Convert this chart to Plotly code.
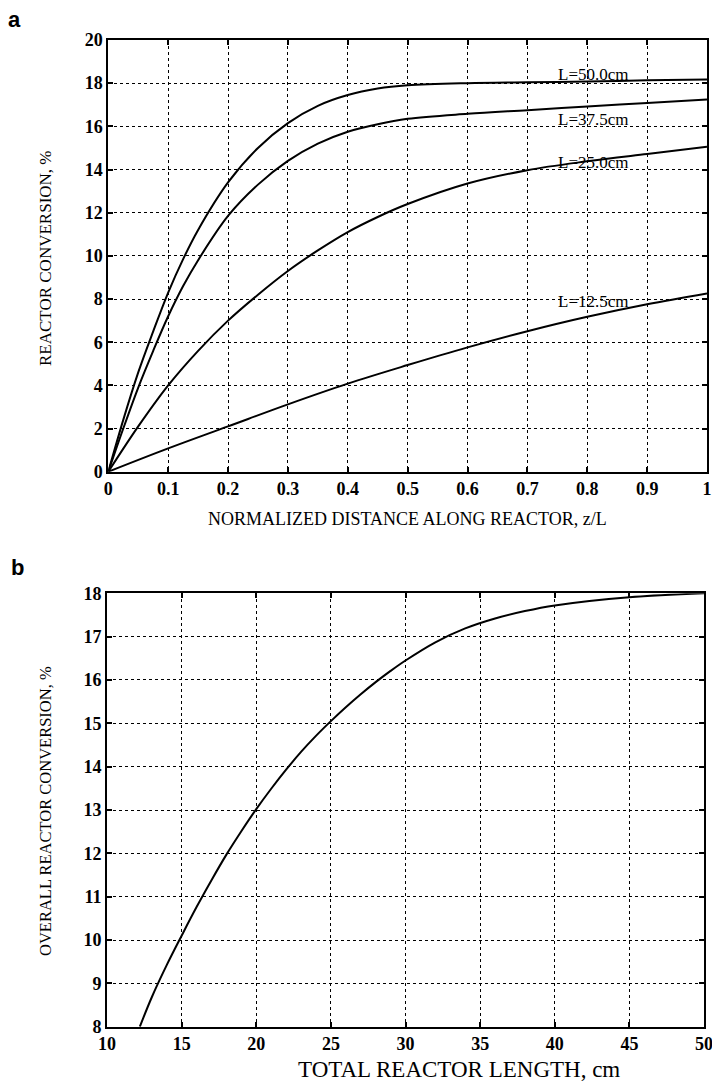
import plotly.graph_objects as go

# ---- Panel a data: reactor conversion vs normalized distance z/L ----
z_50 = [0, 0.025, 0.05, 0.075, 0.1, 0.125, 0.15, 0.2, 0.25, 0.3, 0.35, 0.4, 0.45, 0.5, 0.6, 0.7, 0.8, 0.9, 1.0]
conv_50 = [0, 2.4, 4.6, 6.5, 8.3, 9.85, 11.2, 13.4, 15.0, 16.15, 16.95, 17.45, 17.75, 17.9, 18.0, 18.04, 18.08, 18.13, 18.17]

z_375 = [0, 0.025, 0.05, 0.075, 0.1, 0.125, 0.15, 0.2, 0.25, 0.3, 0.35, 0.4, 0.45, 0.5, 0.6, 0.7, 0.8, 0.9, 1.0]
conv_375 = [0, 2.0, 3.9, 5.6, 7.2, 8.6, 9.8, 11.85, 13.3, 14.4, 15.2, 15.75, 16.1, 16.35, 16.58, 16.75, 16.92, 17.08, 17.24]

z_25 = [0, 0.05, 0.1, 0.15, 0.2, 0.25, 0.3, 0.35, 0.4, 0.45, 0.5, 0.6, 0.7, 0.8, 0.9, 1.0]
conv_25 = [0, 2.1, 4.0, 5.6, 7.0, 8.2, 9.3, 10.25, 11.1, 11.8, 12.4, 13.35, 13.97, 14.38, 14.72, 15.05]

z_125 = [0, 0.1, 0.2, 0.3, 0.4, 0.5, 0.6, 0.7, 0.8, 0.9, 1.0]
conv_125 = [0, 1.08, 2.1, 3.12, 4.08, 4.94, 5.76, 6.51, 7.18, 7.76, 8.26]

curve_labels = ["L=50.0cm", "L=37.5cm", "L=25.0cm", "L=12.5cm"]
label_y = [18.41, 16.33, 14.34, 7.9]

# ---- Panel b data: overall conversion vs total reactor length ----
length_cm = [12.2, 13, 14, 15, 16, 17, 18, 19, 20, 21, 22, 23, 24, 25, 26, 27, 28, 29, 30, 32, 34, 36, 38, 40, 45, 50]
overall_conv = [8.0, 8.68, 9.42, 10.1, 10.76, 11.38, 11.97, 12.51, 13.02, 13.49, 13.93, 14.34, 14.71, 15.05,
                15.37, 15.67, 15.95, 16.21, 16.45, 16.87, 17.19, 17.42, 17.59, 17.72, 17.91, 18.0]

xa_ticks = [0, 0.1, 0.2, 0.3, 0.4, 0.5, 0.6, 0.7, 0.8, 0.9, 1]
xa_ticktext = ["0", "0.1", "0.2", "0.3", "0.4", "0.5", "0.6", "0.7", "0.8", "0.9", "1"]
ya_ticks = [0, 2, 4, 6, 8, 10, 12, 14, 16, 18, 20]
xb_ticks = [10, 15, 20, 25, 30, 35, 40, 45, 50]
yb_ticks = [8, 9, 10, 11, 12, 13, 14, 15, 16, 17, 18]

W, H = 712, 1085
SERIF = "Liberation Serif"

fig = go.Figure()
line = dict(color="black", width=2, shape="spline", smoothing=1.0)
for zz, cc in [(z_50, conv_50), (z_375, conv_375), (z_25, conv_25), (z_125, conv_125)]:
    fig.add_trace(go.Scatter(x=zz, y=cc, mode="lines", line=line, xaxis="x", yaxis="y",
                             showlegend=False, hoverinfo="skip"))
fig.add_trace(go.Scatter(x=length_cm, y=overall_conv, mode="lines", line=line,
                         xaxis="x2", yaxis="y2", showlegend=False, hoverinfo="skip"))

def px_dom_x(a, b):
    return [a / W, b / W]

def px_dom_y(top, bottom):
    return [1 - bottom / H, 1 - top / H]

axis_common = dict(
    showline=True, linecolor="black", linewidth=2, mirror="ticks",
    ticks="inside", ticklen=5, tickwidth=1.5, tickcolor="black",
    showgrid=True, gridcolor="black", gridwidth=1, griddash="dot",
    zeroline=False, automargin=False, ticklabeloverflow="allow",
    tickfont=dict(family=SERIF, size=18, color="black", weight="bold"),
)

fig.update_layout(
    width=W, height=H, margin=dict(l=0, r=0, t=0, b=0),
    paper_bgcolor="white", plot_bgcolor="white",
    xaxis=dict(domain=px_dom_x(108.3, 707), range=[0, 1], tickvals=xa_ticks, ticktext=xa_ticktext,
               anchor="y", **axis_common),
    yaxis=dict(domain=px_dom_y(40, 471.7), range=[0, 20], tickvals=ya_ticks, anchor="x", **axis_common),
    xaxis2=dict(domain=px_dom_x(107, 704), range=[10, 50], tickvals=xb_ticks, anchor="y2", **axis_common),
    yaxis2=dict(domain=px_dom_y(593.3, 1026.7), range=[8, 18], tickvals=yb_ticks, anchor="x2", **axis_common),
)

annotations = []
for txt, yy in zip(curve_labels, label_y):
    annotations.append(dict(x=0.748, y=yy, xref="x", yref="y", text=txt, showarrow=False,
                            xanchor="left", yanchor="middle",
                            font=dict(family=SERIF, size=17, color="black")))

def paper(xpx, ypx):
    return xpx / W, 1 - ypx / H

for txt, (xp, yp), ang, sz, ya in [
    ("NORMALIZED DISTANCE ALONG REACTOR, z/L", (407.5, 519), 0, 18, "middle"),
    ("TOTAL REACTOR LENGTH, cm", (459, 1084), 0, 23, "bottom"),
    ("REACTOR CONVERSION, %", (45, 258), -90, 17, "middle"),
    ("OVERALL REACTOR CONVERSION, %", (45, 811), -90, 16.5, "middle"),
]:
    px_, py_ = paper(xp, yp)
    annotations.append(dict(x=px_, y=py_, xref="paper", yref="paper", text=txt, showarrow=False,
                            xanchor="center", yanchor=ya, textangle=ang,
                            font=dict(family=SERIF, size=sz, color="black")))

for txt, (xp, yp) in [("a", (14, 19)), ("b", (17, 567))]:
    px_, py_ = paper(xp, yp)
    annotations.append(dict(x=px_, y=py_, xref="paper", yref="paper", text="<b>" + txt + "</b>",
                            showarrow=False, xanchor="center", yanchor="middle",
                            font=dict(family="Liberation Sans", size=22, color="black")))

fig.update_layout(annotations=annotations)
fig.write_html("out.html")
